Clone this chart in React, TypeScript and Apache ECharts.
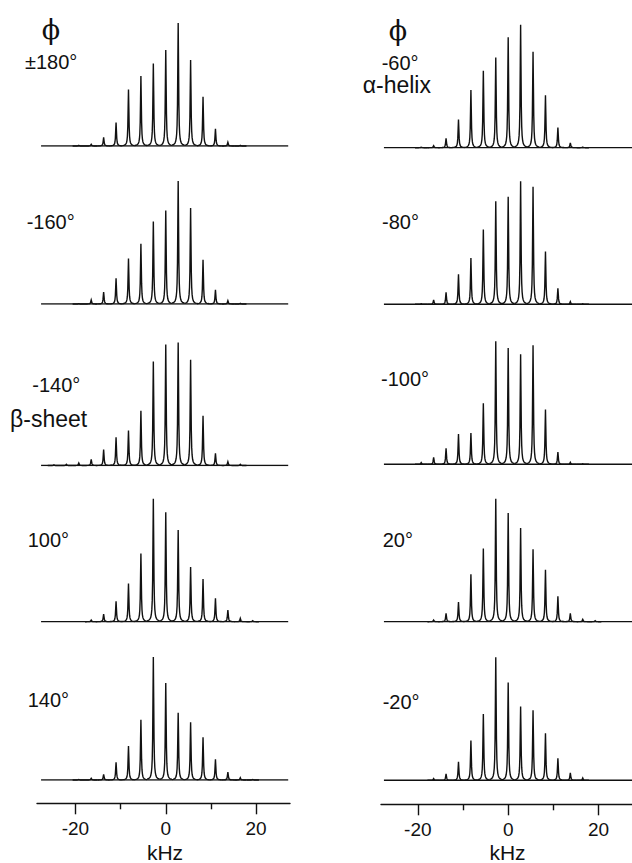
import React, { useEffect, useRef } from "react";
import * as echarts from "echarts";

// Spinning sideband spacing (kHz)
const SIDEBAND_SPACING = 2.75;

// Relative sideband intensities (% of tallest), listed from the first order upward
const specM180First = -7;
const specM180 = [0.5, 1.4, 7, 19, 46, 57, 67, 78, 100, 70, 40, 14, 3, 0.5];
const specM160First = -7;
const specM160 = [0.3, 3.3, 9.8, 21, 37, 49, 67, 76, 100, 78, 36, 11.5, 2.7, 0.5];
const specM140First = -9;
const specM140 = [0.5, 1, 2, 5, 13, 23, 28.5, 44.5, 84.5, 98.4, 100, 86, 40.5, 10, 3, 1];
const specP100First = -6;
const specP100 = [1.4, 6.2, 16.5, 31, 55.5, 100, 89, 74.5, 44.4, 34.7, 19, 9.5, 2.7, 0.8];
const specP140First = -7;
const specP140 = [0.4, 1.4, 4.6, 14.4, 27.7, 49, 100, 78.8, 54.6, 47, 34.8, 16.8, 6.5, 1.9, 0.4];

const specM60First = -7;
const specM60 = [0.4, 1.6, 7.6, 23, 47, 62.5, 73.4, 89.7, 100, 78, 42.7, 16.3, 4, 0.5];
const specM80First = -7;
const specM80 = [0.5, 3.5, 9.8, 24.5, 37.6, 60.8, 83.7, 87.5, 100, 95.6, 43, 13, 2.2, 0.5];
const specM100First = -7;
const specM100 = [1.4, 5.7, 13, 24.7, 25.5, 49.7, 100, 94.6, 89.4, 96.7, 44.6, 10, 1.6, 0.4];
const specP20First = -6;
const specP20 = [1.4, 6.8, 16, 38.5, 59.6, 100, 88.3, 76.2, 58.8, 42.3, 20.6, 6.8, 1.9, 0.8];
const specM20First = -6;
const specM20 = [1.4, 5.2, 15, 32.3, 53.8, 100, 79.6, 60, 57, 38.3, 18, 6, 1.9];

const leftSpectra = [
  [specM180First, specM180],
  [specM160First, specM160],
  [specM140First, specM140],
  [specP100First, specP100],
  [specP140First, specP140],
] as [number, number[]][];
const rightSpectra = [
  [specM60First, specM60],
  [specM80First, specM80],
  [specM100First, specM100],
  [specP20First, specP20],
  [specM20First, specM20],
] as [number, number[]][];

const leftLabels = ["±180°", "-160°", "-140°", "100°", "140°"];
const rightLabels = ["-60°", "-80°", "-100°", "20°", "-20°"];
const majorTicks = [-20, 0, 20];
const minorTicks = [-10, 10];
const axisName = "kHz";

// layout (pixels)
const LEFT_BASELINES = [146, 304, 465.5, 621.7, 780];
const RIGHT_BASELINES = [147.7, 304.3, 464.3, 621.7, 780.3];
const PANEL_H = 123;
const LEFT_X = { left: 37, width: 253, min: -28.5, max: 27.5, lineFrom: -27.6, lineTo: 27.1 };
const RIGHT_X = { left: 381, width: 251, min: -28.15, max: 27.4, lineFrom: -27.5, lineTo: 27.4 };

const FONT = "'Liberation Sans', Arial, Helvetica, sans-serif";
const SERIF = "'DejaVu Serif', 'Liberation Serif', serif";
const INK = "#111";

const G2 = 0.5 * 0.5;
const OFFSETS = [-6.2, -5, -4, -3.2, -2.6, -2, -1.5, -1.1, -0.7, -0.35, 0, 0.35, 0.7, 1.1, 1.5, 2, 2.6, 3.2, 4, 5, 6.2];

export default function App() {
  const ref = useRef<HTMLDivElement>(null);
  useEffect(() => {
    if (!ref.current) return;
    const chart = echarts.init(ref.current, undefined, { renderer: "svg" });

    const grids: any[] = [];
    const xAxes: any[] = [];
    const yAxes: any[] = [];
    const series: any[] = [];

    const addPanel = (spec: [number, number[]], baseline: number, X: any) => {
      const idx = grids.length;
      grids.push({ left: X.left, width: X.width, top: baseline - PANEL_H, height: PANEL_H, containLabel: false });
      xAxes.push({ type: "value", gridIndex: idx, min: X.min, max: X.max, show: false });
      yAxes.push({ type: "value", gridIndex: idx, min: 0, max: 100, show: false });
      const [first, vals] = spec;
      const data = vals.map((v, i) => [(first + i) * SIDEBAND_SPACING, v]);
      series.push({
        type: "line",
        xAxisIndex: idx,
        yAxisIndex: idx,
        data: [[X.lineFrom, 0], [X.lineTo, 0]],
        symbol: "none",
        lineStyle: { color: INK, width: 1.4 },
        silent: true,
      });
      series.push({
        type: "custom",
        xAxisIndex: idx,
        yAxisIndex: idx,
        clip: false,
        data,
        encode: { x: 0, y: 1 },
        renderItem: (_p: any, api: any) => {
          const pos = api.value(0);
          const h = api.value(1);
          const base = api.coord([pos, 0]);
          const top = api.coord([pos, h]);
          const H = base[1] - top[1];
          const points = OFFSETS.map((dx) => [base[0] + dx, base[1] - (H * G2) / (G2 + dx * dx)]);
          return {
            type: "polyline",
            shape: { points },
            style: { stroke: INK, lineWidth: 1.4, fill: "none" },
          };
        },
      });
    };

    leftSpectra.forEach((s, i) => addPanel(s, LEFT_BASELINES[i], LEFT_X));
    rightSpectra.forEach((s, i) => addPanel(s, RIGHT_BASELINES[i], RIGHT_X));

    const addAxis = (X: any, axisY: number) => {
      const idx = grids.length;
      grids.push({ left: X.left, width: X.width, top: axisY - 10, height: 10 });
      yAxes.push({ type: "value", gridIndex: idx, min: 0, max: 1, show: false });
      xAxes.push({
        type: "value",
        gridIndex: idx,
        position: "bottom",
        min: X.min,
        max: X.max,
        axisLine: { show: true, lineStyle: { color: INK, width: 1.4 } },
        axisTick: { show: true, customValues: majorTicks, length: 11, lineStyle: { color: INK, width: 1.4 } },
        axisLabel: {
          show: true,
          customValues: majorTicks,
          margin: 18,
          fontSize: 19,
          lineHeight: 15,
          fontFamily: FONT,
          color: INK,
        },
        splitLine: { show: false },
      });
      xAxes.push({
        type: "value",
        gridIndex: idx,
        position: "bottom",
        min: X.min,
        max: X.max,
        axisLine: { show: false },
        axisTick: { show: true, customValues: minorTicks, length: 6, lineStyle: { color: INK, width: 1.4 } },
        axisLabel: { show: false },
        splitLine: { show: false },
      });
    };
    addAxis(LEFT_X, 803.3);
    addAxis(RIGHT_X, 804.3);

    const text = (t: string, x: number, y: number, size: number, align = "left", family = FONT, lh?: number) => ({
      type: "text",
      x,
      y,
      style: {
        text: t,
        fontSize: size,
        fontFamily: family,
        fill: INK,
        align,
        verticalAlign: "middle",
        ...(lh ? { lineHeight: lh } : {}),
      },
    });

    const labelPos = [
      [25, 62],
      [26.7, 222],
      [32.3, 384.5],
      [27.7, 540],
      [27.7, 700],
    ];
    const rightLabelPos = [
      [381.7, 62.5],
      [382, 222],
      [381, 379],
      [382.7, 540],
      [382.7, 701.5],
    ];
    const graphics: any[] = [];
    leftLabels.forEach((t, i) => graphics.push(text(t, labelPos[i][0], labelPos[i][1], 20)));
    rightLabels.forEach((t, i) => graphics.push(text(t, rightLabelPos[i][0], rightLabelPos[i][1], 20)));
    graphics.push(text("β-sheet", 10, 419, 23));
    graphics.push(text("α-helix", 362.7, 85.3, 23));
    graphics.push(text("ϕ", 51, 29, 27, "center", SERIF));
    graphics.push(text("ϕ", 398, 30, 27, "center", SERIF));
    graphics.push(text(axisName, 165, 852, 21, "center", FONT, 19));
    graphics.push(text(axisName, 507.5, 852.5, 21, "center", FONT, 19));

    chart.setOption({
      animation: false,
      backgroundColor: "#fff",
      grid: grids,
      xAxis: xAxes,
      yAxis: yAxes,
      series,
      graphic: graphics,
    });
    return () => chart.dispose();
  }, []);
  return (
    <div
      ref={ref}
      style={{ position: "absolute", left: 0, top: 0, width: 632, height: 863, background: "#fff" }}
    />
  );
}
